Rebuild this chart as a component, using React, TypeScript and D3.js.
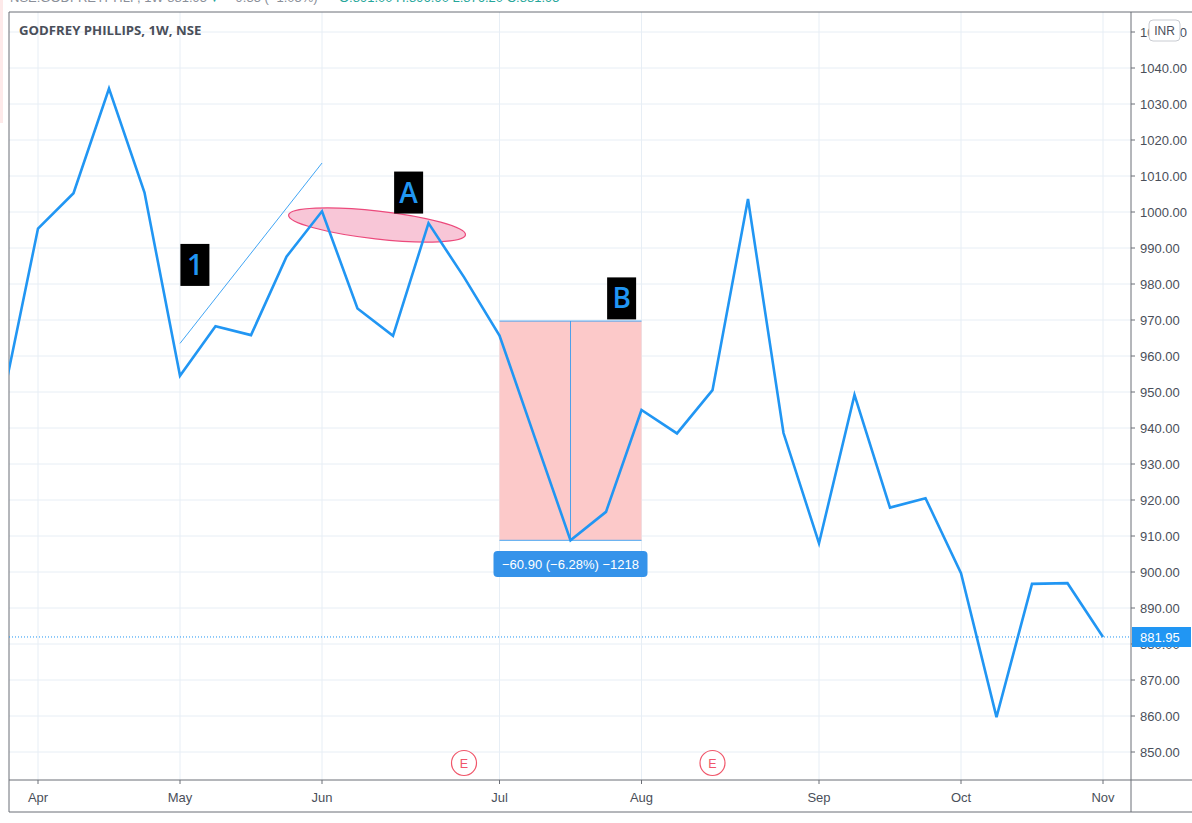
import React from "react";
import * as d3 from "d3";

const weekIndex = d3.range(-1, 31);
const closeValues = [947.5, 995.4, 1005.2, 1034.3, 1005.4, 954.5, 968.3, 965.8, 987.6, 1000.2, 973.2, 965.6, 996.9, 981.9, 965.7, 937.2, 908.8, 916.7, 945.0, 938.5, 950.5, 1003.6, 938.6, 908.0, 949.2, 917.9, 920.5, 899.7, 859.7, 896.7, 896.9, 881.95];
const monthLabels = ["Apr", "May", "Jun", "Jul", "Aug", "Sep", "Oct", "Nov"];
const monthIndex = [0, 4, 8, 13, 17, 22, 26, 30];
const priceTicks = d3.range(850, 1051, 10);
const lastPrice = 881.95;
const earningsIndex = [12, 19];
const trendLine = [{ i: 4, v: 963.5 }, { i: 8, v: 1013.6 }];
const measure = { i0: 13, i1: 17, top: 969.7, bottom: 908.8, label: "\u221260.90 (\u22126.28%) \u22121218" };
const ellipseA = { i: 9.55, v: 996.4 };
const labelBoxes = [
  { text: "1", i: 4.42, v: 985.3 },
  { text: "A", i: 10.44, v: 1005.4 },
  { text: "B", i: 16.44, v: 976.0 },
];

const W = 1192, H = 823;
const plotL = 9, plotR = 1131, plotT = 12, plotB = 780, frameB = 812;
const blue = "#2196f3";
const grid = "#e7eef5";
const axisText = "#4a4f5a";
const fontFam = "'Liberation Sans', Arial, sans-serif";

export default function App() {
  const x = d3.scaleLinear().domain([0, 30]).range([38, 1103]);
  const y = d3.scaleLinear().domain([850, 1050]).range([752, 32]);
  const line = d3.line<number>().x((_, k) => x(weekIndex[k])).y((d) => y(d));
  const path = line(closeValues) || "";

  return (
    <svg width={W} height={H} style={{ position: "absolute", left: 0, top: 0, background: "#fff" }} fontFamily={fontFam}>
      <defs>
        <clipPath id="plot">
          <rect x={plotL} y={plotT} width={plotR - plotL} height={plotB - plotT} />
        </clipPath>
      </defs>
      <rect x={0} y={0} width={3} height={123} fill="#fde9e9" />
      {/* cut-off header text */}
      <text x={10} y={1.5} fontSize={13} fill="#8a8f99">NSE:GODFREYPHLP, 1W 881.95</text>
      <text x={208} y={1.5} fontSize={13} fill="#26a69a">▼</text>
      <text x={228} y={1.5} fontSize={13} fill="#8a8f99">−9.35 (−1.05%)</text>
      <text x={339} y={1.5} fontSize={13} fill="#26a69a">O:891.00 H:896.90 L:876.20 C:881.95</text>

      {/* grid */}
      <g clipPath="url(#plot)">
        {priceTicks.map((t) => (
          <line key={"h" + t} x1={plotL} x2={plotR} y1={y(t)} y2={y(t)} stroke={grid} strokeWidth={1} />
        ))}
        {monthIndex.map((m) => (
          <line key={"v" + m} x1={x(m)} x2={x(m)} y1={plotT} y2={plotB} stroke={grid} strokeWidth={1} />
        ))}
      </g>

      {/* frame */}
      <line x1={plotL} x2={W} y1={plotT} y2={plotT} stroke="#6b6e76" strokeWidth={1} />
      <line x1={plotL} x2={plotL} y1={plotT} y2={frameB} stroke="#6b6e76" strokeWidth={1} />
      <line x1={plotL} x2={W} y1={plotB} y2={plotB} stroke="#6b6e76" strokeWidth={1} />
      <line x1={plotL} x2={W} y1={frameB} y2={frameB} stroke="#6b6e76" strokeWidth={1} />
      <line x1={plotR} x2={plotR} y1={plotT} y2={frameB} stroke="#6b6e76" strokeWidth={1} />

      <text x={19} y={35} fontSize={13.2} fontWeight="bold" fill="#4a4f5a" fontFamily="'Open Sans', sans-serif">GODFREY PHILLIPS, 1W, NSE</text>

      <g clipPath="url(#plot)">
        {/* measure box */}
        <rect x={x(measure.i0)} y={y(measure.top)} width={x(measure.i1) - x(measure.i0)} height={y(measure.bottom) - y(measure.top)} fill="#fcc9c9" />
        <line x1={x(measure.i0)} x2={x(measure.i1)} y1={y(measure.top)} y2={y(measure.top)} stroke={blue} strokeWidth={1} opacity={0.8} />
        <line x1={x(measure.i0)} x2={x(measure.i1)} y1={y(measure.bottom)} y2={y(measure.bottom)} stroke={blue} strokeWidth={1} opacity={0.8} />
        <line x1={x((measure.i0 + measure.i1) / 2)} x2={x((measure.i0 + measure.i1) / 2)} y1={y(measure.top)} y2={y(measure.bottom)} stroke={blue} strokeWidth={1} opacity={0.8} />

        {/* last price line */}
        <line x1={plotL} x2={plotR} y1={y(lastPrice)} y2={y(lastPrice)} stroke={blue} strokeWidth={1} strokeDasharray="1,2" />

        {/* trend line */}
        <line x1={x(trendLine[0].i)} y1={y(trendLine[0].v)} x2={x(trendLine[1].i)} y2={y(trendLine[1].v)} stroke={blue} strokeWidth={1} opacity={0.85} />

        {/* ellipse A */}
        <ellipse cx={x(ellipseA.i)} cy={y(ellipseA.v)} rx={89} ry={14} transform={`rotate(6.4 ${x(ellipseA.i)} ${y(ellipseA.v)})`} fill="#f8c6d7" stroke="#ec4a7c" strokeWidth={1.2} />

        {/* price line */}
        <path d={path} fill="none" stroke={blue} strokeWidth={2.6} strokeLinejoin="miter" />

        {/* earnings */}
        {earningsIndex.map((e) => (
          <g key={"e" + e}>
            <circle cx={x(e)} cy={763} r={12.5} fill="#fff" stroke="#f0566a" strokeWidth={1.2} />
            <text x={x(e)} y={767.5} textAnchor="middle" fontSize={12.5} fill="#f0566a">E</text>
          </g>
        ))}

        {/* labels */}
        {labelBoxes.map((l) => (
          <g key={l.text}>
            <rect x={x(l.i) - 14.5} y={y(l.v) - 21} width={29} height={42} fill="#000" />
            <text x={x(l.i)} y={y(l.v) + 10} textAnchor="middle" fontSize={28} fill={blue} fontFamily="'Open Sans', sans-serif" fontWeight={600}>{l.text}</text>
          </g>
        ))}
      </g>

      {/* measure label */}
      <rect x={x((measure.i0 + measure.i1) / 2) - 77} y={551} width={154} height={26} rx={4} fill="#3593ea" />
      <text x={x((measure.i0 + measure.i1) / 2)} y={568.5} textAnchor="middle" fontSize={13} fill="#fff">{measure.label}</text>

      {/* price axis */}
      {priceTicks.map((t) => (
        <g key={"p" + t}>
          <line x1={plotR} x2={plotR + 4} y1={y(t)} y2={y(t)} stroke="#6b6e76" />
          <text x={1140} y={y(t) + 4.5} fontSize={13} fill={axisText}>{t.toFixed(2)}</text>
        </g>
      ))}
      <rect x={1149} y={20} width={31} height={21} rx={4} fill="#fff" stroke="#c9ccd2" />
      <text x={1164.5} y={35} textAnchor="middle" fontSize={12} fill={axisText}>INR</text>

      <rect x={plotR + 1} y={627} width={59} height={20} fill="#2196f3" />
      <text x={1140} y={y(lastPrice) + 5} fontSize={13} fill="#fff">{lastPrice.toFixed(2)}</text>

      {/* time axis */}
      {monthLabels.map((m, k) => (
        <g key={m}>
          <line x1={x(monthIndex[k])} x2={x(monthIndex[k])} y1={plotB} y2={plotB + 4} stroke="#6b6e76" />
          <text x={x(monthIndex[k])} y={802} textAnchor="middle" fontSize={13} fill={axisText}>{m}</text>
        </g>
      ))}
    </svg>
  );
}
